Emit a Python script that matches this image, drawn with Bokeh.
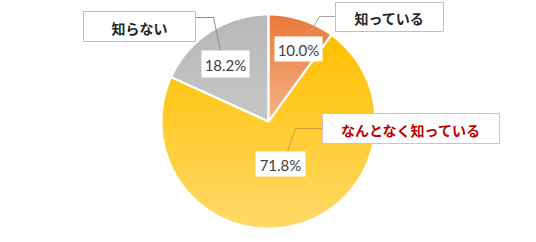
import numpy as np
from bokeh.plotting import figure
from bokeh.models import Range1d
from bokeh.core.properties import value
from bokeh.embed import file_html
from bokeh.resources import INLINE

# ---- data ----
categories = ["知っている", "なんとなく知っている", "知らない"]
shares = [10.0, 71.8, 18.2]
pct_labels = ["10.0%", "71.8%", "18.2%"]

# ---- styles / layout ----
W, H = 536, 242
CX, CY, R = 268, 121, 107
grad_top = ["#E9793A", "#FFC000", "#B8B8B8"]
grad_bot = ["#F4B388", "#FFD968", "#C6C6C6"]
cat_colors = ["#262626", "#C00000", "#262626"]
cat_border = ["#BFBFBF", "#E6B9B9", "#BFBFBF"]
cat_boxes = [(335, 443, 2, 31), (322, 499, 113, 143), (83, 195, 11, 41)]
pct_boxes = [(274, 322, 36, 61), (255, 305, 151, 176), (201, 249, 50, 77)]
leaders = [([335, 319, 308], [16, 16, 35]),
           ([322, 295, 287], [128, 128, 151]),
           ([195, 213, 220], [17, 17, 50])]
leader_colors = ["#A6A6A6", "#D9963A", "#8C8C8C"]

p = figure(width=W, height=H, x_range=Range1d(0, W), y_range=Range1d(H, 0),
           output_backend="svg", toolbar_location=None, min_border=0,
           outline_line_color=None)
p.axis.visible = False
p.grid.visible = False
p.background_fill_color = "white"
p.border_fill_color = "white"


def hex2rgb(h):
    return np.array([int(h[i:i + 2], 16) for i in (1, 3, 5)], dtype=float)


def rgb2hex(c):
    return "#%02x%02x%02x" % tuple(int(round(v)) for v in c)


def clip(poly, y0, y1):
    def clip_edge(pts, keep, inter):
        out = []
        n = len(pts)
        for i in range(n):
            a, b = pts[i - 1], pts[i]
            ka, kb = keep(a), keep(b)
            if kb:
                if not ka:
                    out.append(inter(a, b))
                out.append(b)
            elif ka:
                out.append(inter(a, b))
        return out

    def iy(yv):
        def f(a, b):
            t = (yv - a[1]) / (b[1] - a[1])
            return (a[0] + t * (b[0] - a[0]), yv)
        return f
    pts = clip_edge(poly, lambda q: q[1] >= y0, iy(y0))
    if not pts:
        return []
    pts = clip_edge(pts, lambda q: q[1] <= y1, iy(y1))
    return pts


total = sum(shares)
start = 90.0
outlines = []
for i, s in enumerate(shares):
    sweep = 360.0 * s / total
    angs = np.radians(np.linspace(start, start - sweep, max(int(sweep * 2), 8)))
    xs = [CX] + list(CX + R * np.cos(angs))
    ys = [CY] + list(CY - R * np.sin(angs))
    poly = list(zip(xs, ys))
    outlines.append((xs, ys))
    ymin, ymax = min(ys), max(ys)
    c0, c1 = hex2rgb(grad_top[i]), hex2rgb(grad_bot[i])
    bxs, bys, cols = [], [], []
    step = 2.0
    yb = ymin
    while yb < ymax:
        part = clip(poly, yb, min(yb + step + 0.6, ymax))
        if len(part) >= 3:
            t = (yb + step / 2 - ymin) / max(ymax - ymin, 1)
            cols.append(rgb2hex(c0 + (c1 - c0) * min(max(t, 0), 1)))
            bxs.append([q[0] for q in part])
            bys.append([q[1] for q in part])
        yb += step
    p.patches(bxs, bys, fill_color=cols, line_color=None)
    start -= sweep

# white separators
for xs, ys in outlines:
    p.patch(xs, ys, fill_color=None, line_color="white", line_width=2)

# leader lines
for (lx, ly), lc in zip(leaders, leader_colors):
    p.line(lx, ly, line_color=lc, line_width=1)

# category boxes and labels
for i, cat in enumerate(categories):
    l, r, t, b = cat_boxes[i]
    p.quad(left=[l], right=[r], top=[t], bottom=[b], fill_color="white",
           line_color=cat_border[i], line_width=1)
    p.text(x=[(l + r) / 2], y=[(t + b) / 2 + 1], text=[cat],
           text_font=value("Noto Sans CJK JP"), text_font_style="bold",
           text_font_size="14px", text_color=cat_colors[i],
           text_align="center", text_baseline="middle")

# percentage boxes and labels
for i, lab in enumerate(pct_labels):
    l, r, t, b = pct_boxes[i]
    p.quad(left=[l], right=[r], top=[t], bottom=[b], fill_color="white",
           line_color=None)
    p.text(x=[(l + r) / 2], y=[(t + b) / 2 + 1], text=[lab],
           text_font=value("Lato"), text_font_size="15px",
           text_color="#404040", text_align="center", text_baseline="middle")

open("out.html", "w").write(file_html(p, INLINE))
